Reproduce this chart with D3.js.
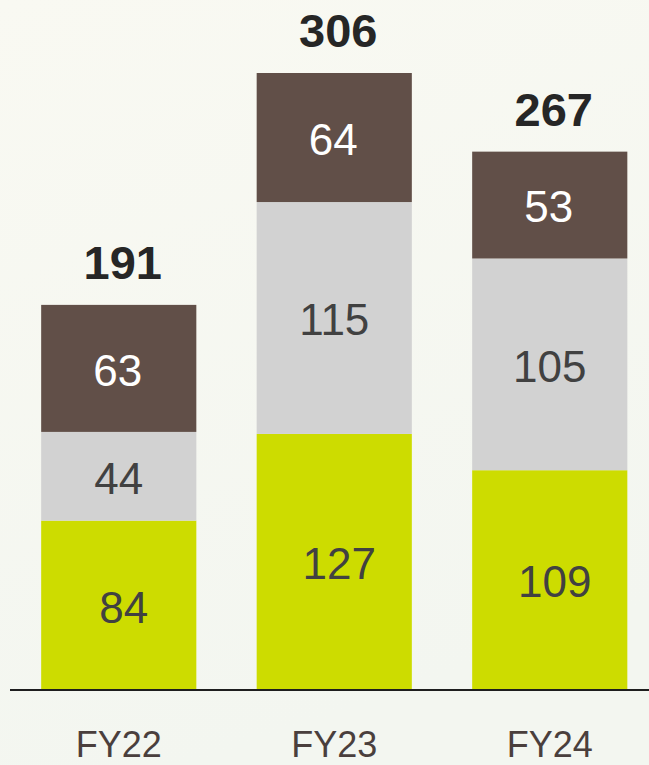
<!DOCTYPE html>
<html>
<head>
<meta charset="utf-8">
<script src="https://cdn.jsdelivr.net/npm/d3@7"></script>
<style>
  html, body { margin: 0; padding: 0; background: #f6f7f1; }
  svg { display: block; }
</style>
</head>
<body>
<div id="chart"></div>
<script>
// Fiscal years and the three stacked components per year
const years = ["FY22", "FY23", "FY24"];
const greenValues = [84, 127, 109];
const grayValues = [44, 115, 105];
const brownValues = [63, 64, 53];
const totals = [191, 306, 267];

const W = 649, H = 765;
const baseY = 690;

const svg = d3.select("#chart").append("svg")
  .attr("width", W).attr("height", H);

// soft background wash
const defs = svg.append("defs");
const bg = defs.append("linearGradient").attr("id", "bg")
  .attr("x1", 0).attr("y1", 0).attr("x2", 0.3).attr("y2", 1);
bg.append("stop").attr("offset", "0%").attr("stop-color", "#f9f9f2");
bg.append("stop").attr("offset", "100%").attr("stop-color", "#f3f6f0");
svg.append("rect").attr("width", W).attr("height", H).attr("fill", "url(#bg)");

const x = d3.scaleBand().domain(years).range([11, 657.5])
  .paddingInner(0.28).paddingOuter(0.14);
const y = d3.scaleLinear().domain([0, 306]).range([baseY, 73]);

const series = [
  { key: "green", values: greenValues, fill: "#cddc00", text: "#414141", dx: 5 },
  { key: "gray", values: grayValues, fill: "#d2d2d2", text: "#414141", dx: 0 },
  { key: "brown", values: brownValues, fill: "#614f48", text: "#ffffff", dx: -1 }
];

const rows = years.map((yr, i) => {
  const r = { year: yr };
  series.forEach(s => r[s.key] = s.values[i]);
  return r;
});
const stacked = d3.stack().keys(series.map(s => s.key))(rows);

const segFont = 44;
stacked.forEach((layer, li) => {
  const s = series[li];
  const g = svg.append("g");
  g.selectAll("rect").data(layer).join("rect")
    .attr("x", d => x(d.data.year))
    .attr("width", x.bandwidth())
    .attr("y", d => y(d[1]))
    .attr("height", d => y(d[0]) - y(d[1]))
    .attr("fill", s.fill);
  g.selectAll("text").data(layer).join("text")
    .attr("x", d => x(d.data.year) + x.bandwidth() / 2 + s.dx)
    .attr("y", d => (y(d[0]) + y(d[1])) / 2 + segFont * 0.36 + 1.5)
    .attr("text-anchor", "middle")
    .attr("font-family", "'Liberation Sans', Arial, sans-serif")
    .attr("font-size", segFont)
    .attr("fill", s.text)
    .text(d => d[1] - d[0]);
});

// totals above each stack
svg.append("g").selectAll("text").data(years).join("text")
  .attr("x", (d) => x(d) + x.bandwidth() / 2 + 4)
  .attr("y", (d, i) => y(totals[i]) - 26)
  .attr("text-anchor", "middle")
  .attr("font-family", "'Liberation Sans', Arial, sans-serif")
  .attr("font-weight", "bold")
  .attr("font-size", 47)
  .attr("fill", "#262626")
  .text((d, i) => totals[i]);

// baseline
svg.append("line")
  .attr("x1", 10).attr("x2", W)
  .attr("y1", baseY).attr("y2", baseY)
  .attr("stroke", "#1e1e1e").attr("stroke-width", 2);

// category axis
const axis = svg.append("g")
  .attr("transform", `translate(0,${baseY})`)
  .call(d3.axisBottom(x).tickSize(0).tickPadding(0));
axis.select(".domain").remove();
axis.selectAll("text")
  .attr("y", 67)
  .attr("dy", null)
  .attr("font-family", "'Liberation Sans', Arial, sans-serif")
  .attr("font-size", 36)
  .attr("fill", "#4a3f3d");
</script>
</body>
</html>
